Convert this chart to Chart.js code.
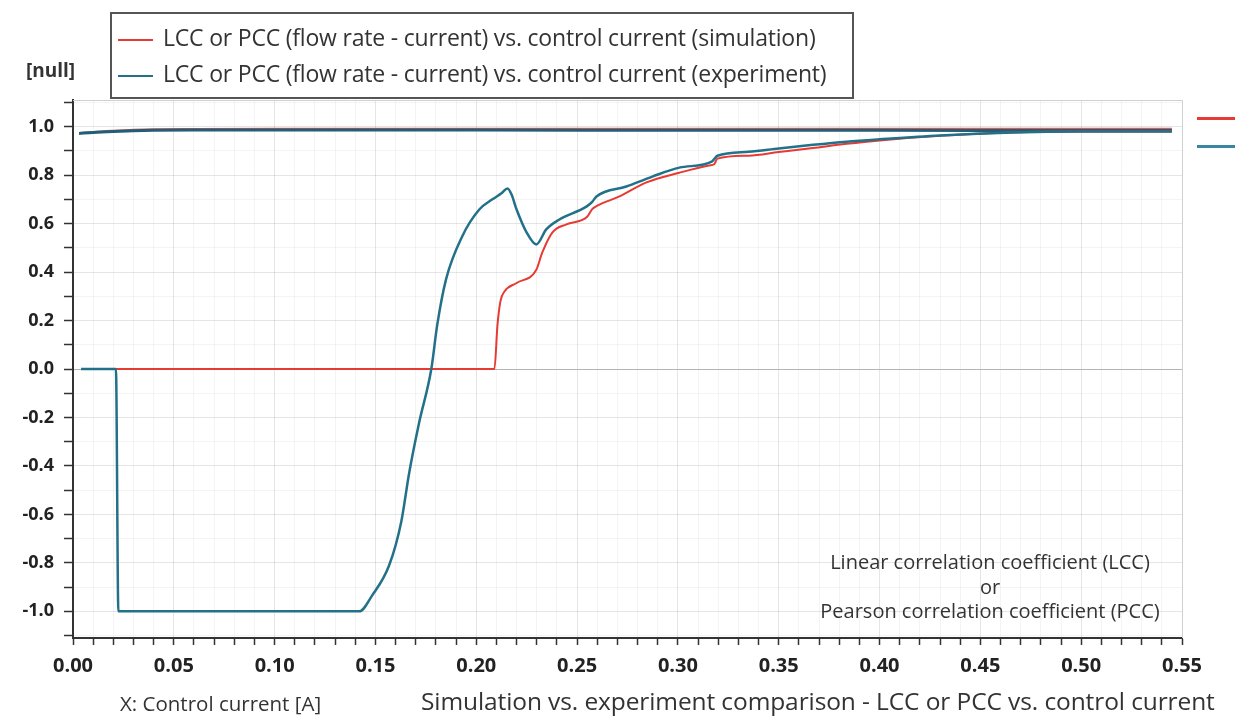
<!DOCTYPE html>
<html>
<head>
<meta charset="utf-8">
<script src="https://cdn.jsdelivr.net/npm/chart.js@4"></script>
<style>
  body { margin: 0; background: #fff; }
  #wrap { position: relative; width: 1236px; height: 718px; font-family: "Open Sans", sans-serif; color: #333; }
  #myChart { position: absolute; left: 0; top: 0; }
  .txt { position: absolute; white-space: nowrap; }
  #legend { position: absolute; left: 110px; top: 12px; width: 740px; height: 83px; border: 2px solid #555; background: #fff; }
  .row { position: absolute; left: 6px; height: 30px; font-size: 23px; line-height: 30px; letter-spacing: -0.2px; }
  .swatch { display: inline-block; width: 35px; height: 0; border-top: 2px solid; vertical-align: middle; margin-right: 10px; }
  .side { position: absolute; left: 1197px; width: 38px; height: 0; border-top: 3px solid; }
</style>
</head>
<body>
<div id="wrap">
  <canvas id="myChart" width="1236" height="718"></canvas>
  <div id="legend">
    <div class="row" style="top:8px"><span class="swatch" style="border-color:#e63a33"></span>LCC or PCC (flow rate - current) vs. control current (simulation)</div>
    <div class="row" style="top:44px"><span class="swatch" style="border-color:#237189"></span>LCC or PCC (flow rate - current) vs. control current (experiment)</div>
  </div>
  <div class="txt" style="left:26px; top:57px; font-size:19px; font-weight:bold;">[null]</div>
  <div class="side" style="top:117px; border-color:#e63a33"></div>
  <div class="side" style="top:145px; border-color:#3a86a0"></div>
  <div class="txt" style="left:790px; top:550px; width:400px; text-align:center; font-size:20px; line-height:24.5px;">Linear correlation coefficient (LCC)<br>or<br>Pearson correlation coefficient (PCC)</div>
  <div class="txt" style="left:120px; top:689px; font-size:20.5px;">X: Control current [A]</div>
  <div class="txt" style="left:421px; top:684px; font-size:24.5px; letter-spacing:-0.1px;">Simulation vs. experiment comparison - LCC or PCC vs. control current</div>
</div>
<script>
// correlation of flow rate vs current, upper curves (running totals)
const simTopX = [0.003, 0.01, 0.02, 0.03, 0.04, 0.06, 0.1, 0.2, 0.3, 0.4, 0.5, 0.545];
const simTopY = [0.974, 0.979, 0.984, 0.988, 0.990, 0.991, 0.992, 0.992, 0.992, 0.992, 0.992, 0.992];
const expTopX = [0.003, 0.01, 0.02, 0.03, 0.04, 0.06, 0.1, 0.2, 0.3, 0.4, 0.5, 0.545];
const expTopY = [0.972, 0.976, 0.980, 0.983, 0.985, 0.986, 0.986, 0.986, 0.985, 0.985, 0.984, 0.984];

// simulation curve
const simX = [0.005, 0.209, 0.2105, 0.212, 0.214, 0.22, 0.2298, 0.2327, 0.2377, 0.2447, 0.255, 0.2575, 0.2596, 0.271, 0.2844, 0.3007, 0.3156, 0.318, 0.3196, 0.335, 0.35, 0.367, 0.3836, 0.40, 0.43, 0.466, 0.50, 0.545];
const simY = [0, 0, 0.18, 0.28, 0.32, 0.355, 0.41, 0.48, 0.563, 0.597, 0.628, 0.66, 0.672, 0.712, 0.77, 0.81, 0.84, 0.845, 0.868, 0.880, 0.895, 0.912, 0.929, 0.943, 0.962, 0.976, 0.98, 0.98];

// experiment curve
const expX = [0.004, 0.0213, 0.0225, 0.142, 0.1484, 0.1568, 0.1628, 0.1667, 0.1717, 0.1777, 0.1806, 0.185, 0.193, 0.2015, 0.208, 0.2125, 0.2155, 0.2175, 0.22, 0.225, 0.2298, 0.2347, 0.2412, 0.2546, 0.2575, 0.2596, 0.2744, 0.2873, 0.3007, 0.317, 0.3196, 0.335, 0.35, 0.367, 0.3836, 0.40, 0.43, 0.466, 0.50, 0.545];
const expY = [0, 0, -1.0, -1.0, -0.934, -0.81, -0.63, -0.43, -0.22, 0, 0.18, 0.37, 0.547, 0.658, 0.70, 0.725, 0.745, 0.72, 0.658, 0.563, 0.514, 0.576, 0.617, 0.67, 0.69, 0.712, 0.753, 0.794, 0.831, 0.857, 0.88, 0.896, 0.910, 0.925, 0.938, 0.948, 0.964, 0.976, 0.98, 0.98];

const xLabelStep = 0.05;
const yLabelStep = 0.2;

function pts(xs, ys) {
  return xs.map((x, i) => ({ x: x, y: ys[i] }));
}

// light frame on top and right of the plot
const frame = {
  id: 'frame',
  beforeDatasetsDraw(chart) {
    const { ctx, chartArea: a } = chart;
    ctx.save();
    ctx.strokeStyle = '#d0d0d0';
    ctx.lineWidth = 1;
    ctx.beginPath();
    ctx.moveTo(a.left, a.top + 0.5);
    ctx.lineTo(a.right + 0.5, a.top + 0.5);
    ctx.lineTo(a.right + 0.5, a.bottom);
    ctx.stroke();
    ctx.restore();
  }
};

function addGraph() {
  const ctx = document.getElementById('myChart');

  new Chart(ctx, {
    type: 'scatter',
    data: {
      datasets: [
        { data: pts(expX, expY), borderColor: '#237189', borderWidth: 2.5 },
        { data: pts(simX, simY), borderColor: '#e63a33', borderWidth: 2 },
        { data: pts(expTopX, expTopY), borderColor: '#1f5f78', borderWidth: 3 },
        { data: pts(simTopX, simTopY), borderColor: '#e8574f', borderWidth: 1.5 },
      ].map(d => Object.assign(d, { showLine: true, pointRadius: 0, cubicInterpolationMode: 'monotone' }))
    },
    options: {
      responsive: false,
      animation: false,
      layout: { padding: { left: 0, top: 100, right: 54, bottom: 0 } },
      plugins: {
        legend: { display: false },
        tooltip: { enabled: false },
      },
      scales: {
        x: {
          type: 'linear',
          min: 0,
          max: 0.55,
          afterFit: (s) => { s.height = 80; },
          border: { color: '#333', width: 2 },
          grid: {
            color: (c) => Math.round(c.tick.value * 100) % 5 === 0 ? 'rgba(0,0,0,0.10)' : 'rgba(0,0,0,0.045)',
            tickColor: '#333',
            tickLength: 7,
            tickWidth: 1.5,
          },
          ticks: {
            stepSize: 0.01,
            autoSkip: false,
            maxRotation: 0,
            padding: 9,
            color: '#222',
            font: { family: 'Open Sans', size: 20, weight: 'bold' },
            callback: (v) => Math.round(v * 100) % Math.round(xLabelStep * 100) === 0 ? v.toFixed(2) : '',
          },
        },
        y: {
          min: -1.11,
          max: 1.11,
          afterFit: (s) => { s.width = 73; },
          border: { color: '#333', width: 2 },
          grid: {
            color: (c) => {
              const v = Math.round(c.tick.value * 10);
              if (v === 0) return '#b4b4b4';
              return v % 2 === 0 ? 'rgba(0,0,0,0.10)' : 'rgba(0,0,0,0.045)';
            },
            tickColor: '#333',
            tickLength: 9,
            tickWidth: 1.5,
          },
          ticks: {
            stepSize: 0.1,
            autoSkip: false,
            includeBounds: false,
            padding: 10,
            color: '#222',
            font: { family: 'Open Sans', size: 18, weight: 'bold' },
            callback: (v) => Math.round(v * 10) % Math.round(yLabelStep * 10) === 0 ? v.toFixed(1) : '',
          },
        }
      }
    },
    plugins: [frame]
  });
}

addGraph();
</script>
</body>
</html>
